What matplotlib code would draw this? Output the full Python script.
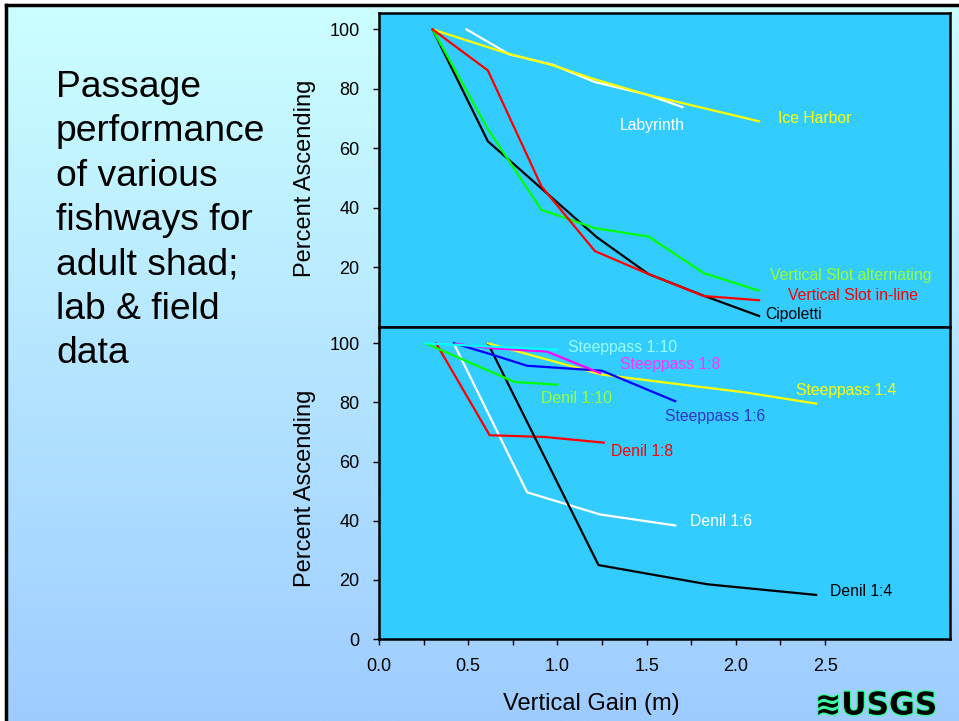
import numpy as np
import matplotlib
matplotlib.use('Agg')
import matplotlib.pyplot as plt
from matplotlib import patheffects

plt.rcParams['font.family'] = ['Liberation Sans', 'DejaVu Sans']

# ---- top panel: lab & field fishways (vertical gain m, percent ascending)
ice_x = [0.30, 0.72, 0.97, 1.21, 1.50, 2.13]
ice_y = [100, 91.9, 88.0, 83.2, 78.1, 69.1]
lab_x = [0.49, 0.73, 0.97, 1.21, 1.50, 1.70]
lab_y = [100, 91.6, 88.2, 82.3, 78.1, 73.9]
cip_x = [0.30, 0.61, 1.22, 1.51, 1.82, 2.13]
cip_y = [100, 62.4, 30.2, 17.8, 10.5, 3.7]
vsi_x = [0.30, 0.61, 0.91, 1.21, 1.51, 1.82, 2.13]
vsi_y = [100, 86.2, 47.3, 25.5, 17.8, 10.4, 9.0]
vsa_x = [0.30, 0.61, 0.91, 1.21, 1.51, 1.82, 2.13]
vsa_y = [100, 66.5, 39.4, 33.2, 30.4, 18.1, 12.2]

# ---- bottom panel: steeppass and denil
sp10_x = [0.26, 0.62, 1.00]
sp10_y = [100, 98.9, 97.8]
sp8_x = [0.43, 0.64, 0.94, 1.24]
sp8_y = [99.8, 98.3, 97.2, 89.9]
sp6_x = [0.42, 0.62, 0.83, 1.25, 1.66]
sp6_y = [100, 96.4, 92.4, 90.7, 80.4]
sp4_x = [0.61, 1.25, 1.66, 2.05, 2.45]
sp4_y = [100, 89.4, 86.3, 83.4, 79.6]
d10_x = [0.26, 0.76, 1.00]
d10_y = [100, 86.9, 86.0]
d8_x = [0.32, 0.62, 0.93, 1.26]
d8_y = [100, 68.9, 68.3, 66.4]
d6_x = [0.42, 0.83, 1.24, 1.66]
d6_y = [99.8, 49.6, 42.1, 38.4]
d4_x = [0.61, 1.23, 1.84, 2.45]
d4_y = [100, 25.0, 18.5, 14.9]

title_lines = ['Passage', 'performance', 'of various', 'fishways for',
               'adult shad;', 'lab & field', 'data']

axbg = '#33ccff'
lw = 1.6

fig = plt.figure(figsize=(9.59, 7.21), dpi=100)

# slide background (gradient + frame), in pixel coords
bg = fig.add_axes([0, 0, 1, 1], zorder=-10)
bg.set_xlim(0, 959)
bg.set_ylim(721, 0)
bg.set_axis_off()
top_c = np.array([0.80, 1.0, 1.0])
bot_c = np.array([0.62, 0.80, 1.0])
t = np.linspace(0, 1, 256)[:, None]
grad = (top_c[None, :] * (1 - t) + bot_c[None, :] * t)[:, None, :]
bg.imshow(grad, extent=[6, 959, 721, 5], aspect='auto')
bg.plot([6, 959], [5, 5], color='black', lw=2.5)
bg.plot([6, 6], [5, 721], color='black', lw=2.5)

# title text on the left
for i, line in enumerate(title_lines):
    fig.text(56 / 959, 1 - (97 + 44.4 * i) / 721, line, fontsize=26.8,
             va='baseline', ha='left', color='black')

left, width = 379 / 959, 571 / 959
ax1 = fig.add_axes([left, 1 - 327 / 721, width, 314 / 721])
ax2 = fig.add_axes([left, 1 - 639 / 721, width, 312 / 721])

for ax in (ax1, ax2):
    ax.set_facecolor(axbg)
    ax.set_xlim(0, 3.2)
    ax.set_ylim(0, 105.5)
    ax.set_xticks(np.arange(0, 2.51, 0.5))
    ax.set_xticks(np.arange(0.25, 2.5, 0.5), minor=True)
    ax.tick_params(axis='both', which='both', direction='out', length=4,
                   width=1, labelsize=13, color='black')
    ax.tick_params(axis='y', pad=10)
    ax.tick_params(axis='x', pad=10)
    ax.tick_params(axis='y', which='minor', left=False)
    for s in ax.spines.values():
        s.set_linewidth(1.8)
        s.set_color('black')
    ax.set_ylabel('Percent Ascending', fontsize=17)

ax1.set_yticks([20, 40, 60, 80, 100])
ax1.tick_params(axis='x', labelbottom=False)
ax1.yaxis.set_label_coords(-0.11, 0.474)
ax2.set_yticks([0, 20, 40, 60, 80, 100])
ax2.set_xticklabels(['0.0', '0.5', '1.0', '1.5', '2.0', '2.5'])
ax2.yaxis.set_label_coords(-0.11, 0.482)

# top panel lines
ax1.plot(lab_x, lab_y, color='white', lw=lw)
ax1.plot(ice_x, ice_y, color='#ffff00', lw=lw)
ax1.plot(cip_x, cip_y, color='black', lw=lw)
ax1.plot(vsa_x, vsa_y, color='#00ff00', lw=lw)
ax1.plot(vsi_x, vsi_y, color='#ff0000', lw=lw)

lab_fs = 11.3
ax1.text(1.531, 67.8, 'Labyrinth', color='white', fontsize=lab_fs, ha='center', va='center')
ax1.text(2.444, 70.0, 'Ice Harbor', color='#ffff00', fontsize=lab_fs, ha='center', va='center')
ax1.text(2.646, 17.3, 'Vertical Slot alternating', color='#99ff33', fontsize=lab_fs, ha='center', va='center')
ax1.text(2.655, 10.6, 'Vertical Slot in-line', color='#ff0000', fontsize=lab_fs, ha='center', va='center')
ax1.text(2.325, 4.2, 'Cipoletti', color='black', fontsize=lab_fs, ha='center', va='center')

# bottom panel lines
ax2.plot(d6_x, d6_y, color='white', lw=lw)
ax2.plot(d8_x, d8_y, color='#ff0000', lw=lw)
ax2.plot(d4_x, d4_y, color='black', lw=lw)
ax2.plot(d10_x, d10_y, color='#00ff00', lw=lw)
ax2.plot(sp4_x, sp4_y, color='#ffff00', lw=lw)
ax2.plot(sp6_x, sp6_y, color='#0000ff', lw=lw)
ax2.plot(sp8_x, sp8_y, color='#ff00ff', lw=lw)
ax2.plot(sp10_x, sp10_y, color='#00ffff', lw=lw)

ax2.text(1.363, 98.7, 'Steeppass 1:10', color='#99ffff', fontsize=lab_fs, ha='center', va='center')
ax2.text(1.632, 92.9, 'Steeppass 1:8', color='#ff33ff', fontsize=lab_fs, ha='center', va='center')
ax2.text(2.618, 84.0, 'Steeppass 1:4', color='#ffff00', fontsize=lab_fs, ha='center', va='center')
ax2.text(1.106, 81.3, 'Denil 1:10', color='#99ff33', fontsize=lab_fs, ha='center', va='center')
ax2.text(1.881, 75.1, 'Steeppass 1:6', color='#3333cc', fontsize=lab_fs, ha='center', va='center')
ax2.text(1.475, 63.4, 'Denil 1:8', color='#ff0000', fontsize=lab_fs, ha='center', va='center')
ax2.text(1.917, 39.9, 'Denil 1:6', color='white', fontsize=lab_fs, ha='center', va='center')
ax2.text(2.703, 16.0, 'Denil 1:4', color='black', fontsize=lab_fs, ha='center', va='center')

fig.text(591 / 959, 1 - 704 / 721, 'Vertical Gain (m)', fontsize=17,
         ha='center', va='center')

# USGS mark in the corner
fig.text(815 / 959, 1 - 706 / 721, '≋USGS', fontsize=22.5, fontweight='bold',
         family=['DejaVu Sans'], color='black', ha='left', va='center',
         path_effects=[patheffects.withStroke(linewidth=2, foreground='#33ff99')])

fig.savefig('out.png', dpi=100)
